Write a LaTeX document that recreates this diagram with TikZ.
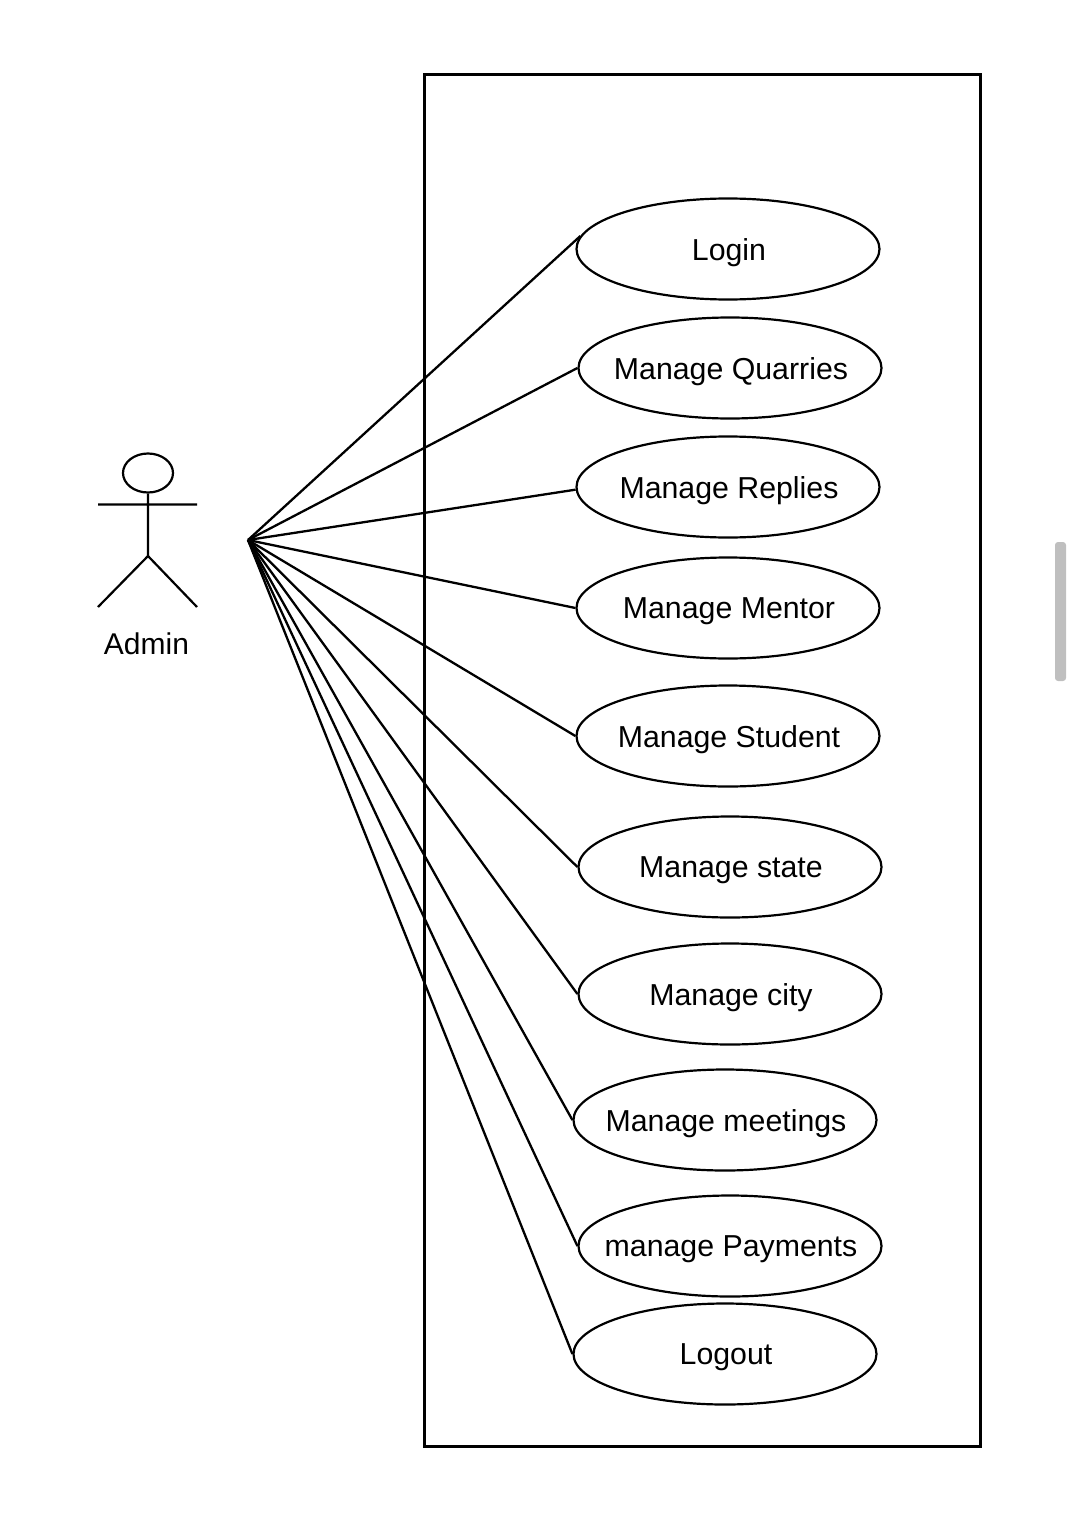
\documentclass[tikz,border=0pt]{standalone}
\usepackage{fontspec}
\setmainfont{Liberation Sans}
\usetikzlibrary{shapes.geometric}
\begin{document}
\begin{tikzpicture}[x=1pt,y=-1pt,line width=2.2pt,
  usecase/.style={draw,ellipse,inner sep=0pt,minimum width=303,minimum height=101},
  uselabel/.style={font=\fontsize{30.3}{36}\selectfont,yshift=-3.5pt,xshift=1pt},
  assoc/.style={line width=2.3pt}]

\useasboundingbox (0,0) rectangle (1079,1530);
\draw (424.5,74.5) rectangle (980.5,1446.5); % system boundary

% actor
\node[draw,ellipse,inner sep=0pt,minimum width=50,minimum height=39] (head) at (148,473) {};
\coordinate (hip) at (148,556);
\coordinate (handL) at (98,504.5);
\coordinate (handR) at (197,504.5);
\coordinate (footL) at (98,607);
\coordinate (footR) at (197,607);
\draw (head.south) -- (hip) (handL) -- (handR) (footL) -- (hip) -- (footR);
\node[font=\fontsize{30}{36}\selectfont] (admin) at (146.5,644) {Admin};
\coordinate (hub) at (248,540);

\foreach \name/\x/\y/\ang/\txt in {
    login/728/249/175/Login,
    quarries/730/368/180/Manage Quarries,
    replies/728/487/181/Manage Replies,
    mentor/728/608/180/Manage Mentor,
    student/728/736/180/Manage Student,
    state/730/867/180/Manage state,
    city/730/994/180/Manage city,
    meetings/725/1120/180/Manage meetings,
    payments/730/1246/180/manage Payments,
    logout/725/1354/180/Logout}{ % loop over use cases
  \node[usecase,label={[uselabel]center:\txt}] (\name) at (\x,\y) {};
  \draw[assoc] (hub) -- (\name.\ang);
}

% scrollbar of the screenshot
\fill[black!25,rounded corners=3] (1055,542) rectangle (1066,681);
\end{tikzpicture}
\end{document}
